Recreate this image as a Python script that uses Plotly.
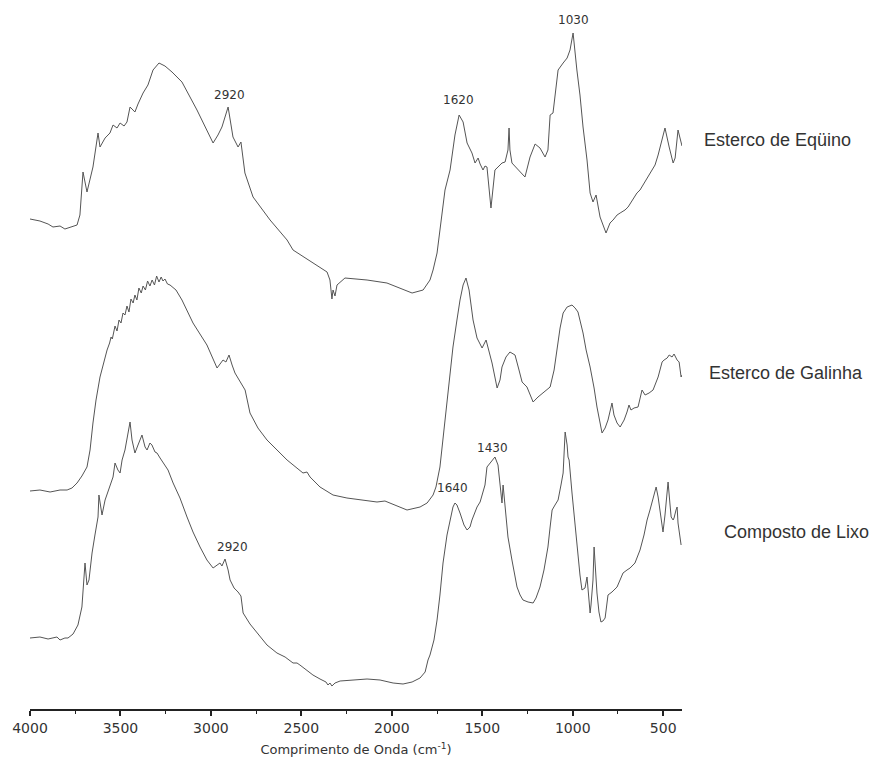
import plotly.graph_objects as go

# ---------------- data (arbitrary intensity units) ----------------
equino_wn = [4000, 3945, 3900, 3873, 3834, 3807, 3740, 3724, 3707, 3685, 3652, 3624, 3613, 3585, 3558,
             3541, 3519, 3502, 3480, 3464, 3447, 3420, 3403, 3375, 3348, 3320, 3287, 3254, 3215, 3160,
             3077, 3033, 2988, 2961, 2939, 2905, 2878, 2850, 2834, 2812, 2767, 2673, 2579, 2546, 2452,
             2358, 2342, 2331, 2325, 2314, 2303, 2259, 2137, 2027, 1888, 1827, 1789, 1772, 1750, 1734,
             1706, 1678, 1651, 1628, 1606, 1584, 1557, 1540, 1523, 1512, 1496, 1485, 1474, 1452, 1430,
             1413, 1391, 1374, 1358, 1352, 1347, 1336, 1302, 1264, 1236, 1208, 1181, 1153, 1137, 1125,
             1109, 1081, 1053, 1031, 1015, 998, 977, 960, 943, 921, 904, 888, 871, 849, 816,
             794, 777, 755, 738, 727, 711, 694, 667, 645, 628, 600, 573, 545, 528, 506,
             490, 467, 445, 434, 418, 407, 396]
equino_val = [490, 488, 485, 482, 483, 480, 484, 494, 537, 517, 542, 576, 562, 571, 576,
              584, 581, 586, 583, 587, 602, 597, 605, 616, 624, 639, 646, 643, 637, 627,
              599, 582, 566, 574, 582, 602, 572, 562, 567, 536, 512, 489, 469, 459, 448,
              437, 429, 410, 419, 413, 424, 431, 429, 426, 416, 419, 429, 439, 456, 479,
              519, 539, 574, 594, 587, 566, 556, 546, 551, 545, 539, 543, 542, 501, 539,
              542, 546, 547, 559, 581, 559, 546, 539, 532, 552, 565, 561, 552, 559, 594,
              596, 639, 646, 651, 659, 676, 639, 614, 582, 549, 516, 507, 514, 492, 476,
              486, 489, 494, 496, 497, 499, 502, 509, 516, 519, 527, 536, 544, 554, 569,
              581, 562, 546, 551, 579, 571, 563]

galinha_wn = [4000, 3945, 3889, 3834, 3795, 3768, 3740, 3713, 3685, 3668, 3652, 3635, 3613, 3591, 3574,
              3560, 3552, 3545, 3530, 3519, 3508, 3497, 3486, 3475, 3464, 3453, 3442, 3430, 3420, 3409,
              3398, 3385, 3375, 3362, 3350, 3337, 3325, 3312, 3300, 3287, 3275, 3265, 3254, 3240, 3226,
              3193, 3160, 3099, 3022, 2966, 2933, 2917, 2900, 2883, 2867,
              2811, 2784, 2740, 2690, 2579, 2491, 2469, 2452, 2397, 2325, 2248, 2082, 2038, 1916, 1844,
              1805, 1772, 1756, 1734, 1706, 1684, 1662, 1640, 1623, 1606, 1590, 1573, 1551, 1529, 1501,
              1479, 1463, 1446, 1418, 1402, 1391, 1369, 1347, 1319, 1297, 1280, 1253, 1236, 1219, 1192,
              1164, 1125, 1103, 1087, 1070, 1053, 1031, 1004, 987, 971, 943, 926, 904, 882, 866,
              838, 821, 805, 794, 783, 772, 755, 738, 716, 700, 689, 678, 661, 639, 628,
              617, 600, 578, 556, 539, 528, 506, 495, 478, 467, 451, 440, 423, 412, 401, 396]
galinha_val = [218, 219, 217, 219, 219, 221, 226, 233, 242, 259, 286, 309, 332, 349, 359,
               366, 372, 370, 383, 378, 389, 386, 396, 394, 403, 397, 410, 406, 414, 409,
               421, 416, 423, 419, 428, 423, 429, 424, 433, 427, 432, 428, 430, 425, 424,
               419, 409, 386, 364, 341, 349, 347, 354, 344, 336,
               319, 296, 281, 269, 249, 236, 237, 232, 222, 214, 211, 207, 208, 199, 202,
               206, 214, 222, 242, 289, 329, 362, 389, 409, 424, 431, 419, 389, 371, 361,
               369, 359, 346, 321, 329, 342, 352, 357, 354, 339, 327, 322, 314, 307, 312,
               316, 322, 339, 362, 381, 396, 402, 404, 401, 397, 376, 359, 342, 321, 302,
               276, 281, 289, 299, 306, 294, 286, 282, 289, 297, 304, 299, 301, 302, 312,
               319, 314, 316, 319, 326, 332, 347, 349, 351, 354, 352, 355, 349, 347, 332, 334]

lixo_wn = [4000, 3945, 3900, 3851, 3834, 3807, 3790, 3762, 3735, 3713, 3696, 3685, 3674, 3657, 3641,
           3624, 3619, 3608, 3602, 3585, 3558, 3541, 3530, 3514, 3502, 3491, 3475, 3464, 3447, 3436,
           3420, 3403, 3381, 3364, 3353, 3337, 3326, 3309, 3298, 3281, 3265, 3237, 3209, 3171, 3132,
           3099, 3060, 3022, 2988, 2966, 2950, 2939, 2922, 2905, 2894, 2872, 2850, 2834, 2822, 2784,
           2745, 2690, 2635, 2590, 2546, 2524, 2508, 2474, 2436, 2397, 2364, 2353, 2342, 2331, 2314,
           2286, 2231, 2137, 2065, 1993, 1938, 1888, 1844, 1816, 1800, 1789, 1767, 1750, 1734, 1717,
           1695, 1678, 1662, 1651, 1640, 1623, 1601, 1584, 1568, 1557, 1529, 1512, 1501, 1485, 1474,
           1457, 1446, 1430, 1413, 1402, 1396, 1391, 1385, 1374, 1358, 1336, 1308, 1291, 1275, 1247,
           1219, 1203, 1181, 1159, 1137, 1125, 1114, 1098, 1081, 1065, 1053, 1042, 1031, 1026, 1020,
           1004, 987, 976, 960, 949, 932, 921, 910, 904, 899, 888, 882, 877, 866, 855,
           844, 833, 821, 805, 783, 755, 738, 722, 700, 683, 656, 645, 628, 606, 589,
           573, 562, 551, 539, 528, 517, 506, 501, 490, 473, 462, 456, 445, 440, 429,
           423, 418, 407, 401]
lixo_val = [71, 72, 70, 72, 69, 71, 71, 75, 84, 102, 146, 124, 129, 156, 174,
            192, 214, 197, 194, 209, 222, 232, 246, 239, 236, 249, 259, 269, 287, 269,
            256, 264, 274, 262, 259, 266, 264, 257, 256, 251, 247, 239, 226, 211, 192,
            177, 162, 149, 141, 144, 146, 143, 150, 139, 129, 121, 117, 113, 96, 85,
            76, 64, 56, 52, 46, 46, 44, 39, 34, 30, 27, 24, 26, 23, 26,
            28, 29, 30, 29, 26, 25, 27, 31, 37, 49, 54, 69, 89, 114, 146,
            174, 189, 202, 206, 204, 196, 184, 179, 182, 189, 202, 207, 214, 224, 242,
            246, 249, 252, 244, 226, 219, 206, 224, 204, 172, 149, 122, 114, 109, 107,
            106, 111, 122, 139, 162, 182, 199, 204, 209, 224, 236, 277, 264, 252, 249,
            216, 184, 162, 134, 119, 121, 132, 109, 96, 104, 129, 162, 144, 116, 97,
            87, 88, 91, 114, 117, 122, 129, 136, 139, 141, 146, 151, 159, 174, 189,
            199, 206, 214, 222, 212, 196, 184, 177, 194, 227, 204, 192, 189, 191, 199,
            202, 186, 174, 164]

series_names = ["Esterco de Eqüino", "Esterco de Galinha", "Composto de Lixo"]

peak_labels = ["2920", "1620", "1030", "1640", "1430", "2920"]
peak_wn = [2900, 1629, 998, 1662, 1441, 2878]
peak_val = [614, 609, 689, 221, 261, 162]

tick_vals = [4000, 3500, 3000, 2500, 2000, 1500, 1000, 500]
minor_tick_vals = [3750, 3250, 2750, 2250, 1750, 1250, 750]
x_title = "Comprimento de Onda (cm<sup>-1</sup>)"

# ---------------- figure ----------------
line_color = "#555555"
text_color = "#333333"

fig = go.Figure()
for wn, val, name in [(equino_wn, equino_val, series_names[0]),
                      (galinha_wn, galinha_val, series_names[1]),
                      (lixo_wn, lixo_val, series_names[2])]:
    fig.add_trace(go.Scatter(x=wn, y=val, mode="lines", name=name,
                             line=dict(color=line_color, width=1), showlegend=False,
                             hoverinfo="skip"))

annotations = []
for lab, w, v in zip(peak_labels, peak_wn, peak_val):
    annotations.append(dict(x=w, y=v, xref="x", yref="y", text=lab, showarrow=False,
                            font=dict(family="DejaVu Sans", size=12, color=text_color)))

label_pos = [(1.031, 0.8025), (1.038, 0.474), (1.061, 0.2496)]
for name, (px, py) in zip(series_names, label_pos):
    annotations.append(dict(x=px, y=py, xref="paper", yref="paper", text=name, showarrow=False,
                            xanchor="left", yanchor="middle",
                            font=dict(family="Liberation Sans, Arial, sans-serif", size=18,
                                      color=text_color)))

fig.update_layout(
    width=873, height=757,
    margin=dict(l=30, r=191, t=0, b=48),
    paper_bgcolor="white", plot_bgcolor="white",
    annotations=annotations,
)
fig.update_xaxes(
    range=[4000, 396], tickvals=tick_vals, ticktext=[str(t) for t in tick_vals],
    showline=True, linecolor="#222222", linewidth=1.5, mirror=False,
    ticks="outside", ticklen=5, tickwidth=1.5, tickcolor="#222222",
    minor=dict(tickvals=minor_tick_vals, ticks="outside",
               ticklen=3, tickwidth=1.2, tickcolor="#222222", showgrid=False),
    showgrid=False, zeroline=False,
    tickfont=dict(family="DejaVu Sans", size=14, color=text_color),
    title=dict(text=x_title, font=dict(family="DejaVu Sans", size=13, color=text_color), standoff=13),
    automargin=False,
)
fig.update_yaxes(range=[0, 709], visible=False, showgrid=False, zeroline=False)

fig.write_html("out.html", config={"displayModeBar": False},
               post_script="document.body.style.margin='0';")
